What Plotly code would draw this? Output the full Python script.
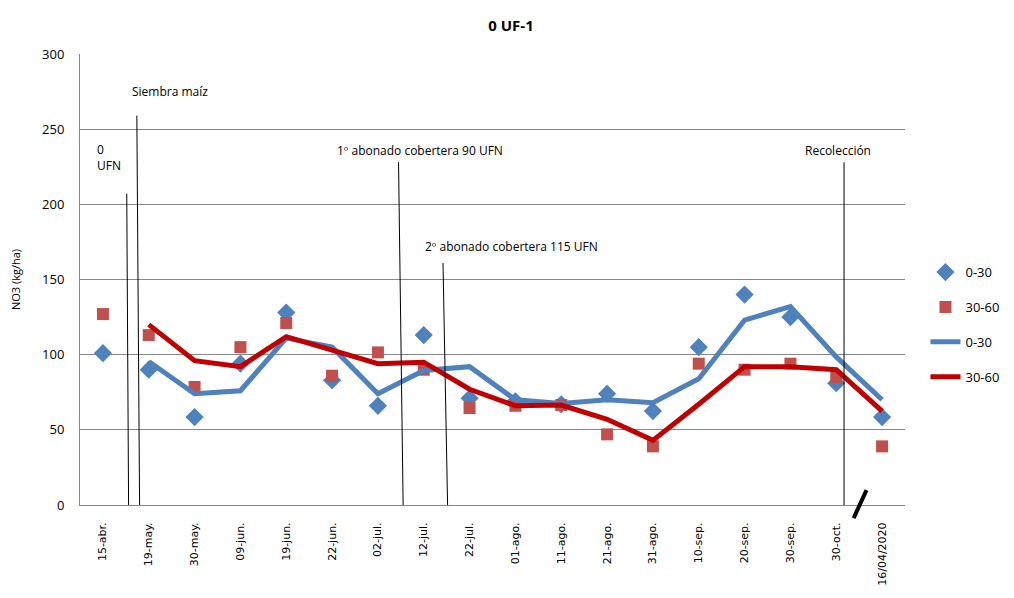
import plotly.graph_objects as go

categories = ["15-abr.", "19-may.", "30-may.", "09-jun.", "19-jun.", "22-jun.", "02-jul.",
              "12-jul.", "22-jul.", "01-ago.", "11-ago.", "21-ago.", "31-ago.", "10-sep.",
              "20-sep.", "30-sep.", "30-oct.", "16/04/2020"]
pts_0_30 = [101, 90, 58.5, 94, 128, 83, 66, 113, 71, 69, 67, 74, 62.5, 105, 140, 125, 81, 58.5]
pts_30_60 = [127, 113, 78.5, 105, 121, 86, 101.5, 90, 64.5, 66, 66.5, 47, 39, 94, 90, 94, 85, 39]
line_0_30 = [None, 95.5, 74, 76, 111, 105, 74, 89.5, 92, 70, 67.5, 70, 68, 84, 123, 132, 98.5, 70]
line_30_60 = [None, 120, 96, 92, 112, 103, 94, 95, 77, 66, 66.5, 57, 43, 67, 92, 92, 90, 62.5]
y_ticks = [0, 50, 100, 150, 200, 250, 300]

# event markers: (x at top, x at bottom, top y value, text, text x, text y, anchor)
events = [
    (0.52, 0.56, 207, "0<br>UFN", -0.17, 231, "left"),
    (0.74, 0.80, 259, "Siembra maíz", 1.46, 275, "center"),
    (6.45, 6.55, 228, "1º abonado cobertera 90 UFN", 6.92, 236, "center"),
    (7.42, 7.52, 161, "2º abonado cobertera 115 UFN", 8.91, 172, "center"),
    (16.17, 16.17, 228, "Recolección", 16.03, 236, "center"),
]

fig = go.Figure()
fig.add_trace(go.Scatter(x=categories, y=pts_0_30, mode="markers", name="0-30", legendgroup="a",
                         marker=dict(symbol="diamond", size=14, color="#4F81BD")))
fig.add_trace(go.Scatter(x=categories, y=pts_30_60, mode="markers", name="30-60", legendgroup="b",
                         marker=dict(symbol="square", size=12, color="#C0504D")))
fig.add_trace(go.Scatter(x=categories, y=line_0_30, mode="lines", name="0-30", legendgroup="c",
                         line=dict(color="#4F81BD", width=5)))
fig.add_trace(go.Scatter(x=categories, y=line_30_60, mode="lines", name="30-60", legendgroup="d",
                         line=dict(color="#C00000", width=5)))

for xt, xb, ytop, text, tx, ty, align in events:
    fig.add_shape(type="line", xref="x", yref="y", x0=xt, x1=xb, y0=ytop, y1=0,
                  line=dict(color="black", width=1))
    fig.add_annotation(x=tx, y=ty, xref="x", yref="y", text=text, showarrow=False,
                       xanchor="left" if align == "left" else "center", align="left",
                       font=dict(family="Open Sans", size=12, color="black"))

# axis break slash
fig.add_shape(type="line", xref="x", yref="paper", x0=16.38, x1=16.66, y0=-0.029, y1=0.033,
              line=dict(color="black", width=4))

fig.update_layout(
    width=1006, height=590,
    margin=dict(l=72, r=109, t=46, b=93, autoexpand=False),
    paper_bgcolor="white", plot_bgcolor="white",
    title=dict(text="<b>0 UF-1</b>", x=0.5, xanchor="center", y=0.97, yanchor="middle",
               font=dict(family="Open Sans", size=15, color="black")),
    font=dict(family="Open Sans", color="black"),
    legend=dict(x=0.912, xref="container", xanchor="left", y=0.40, yanchor="middle",
                tracegroupgap=15, font=dict(family="Open Sans", size=13)),
    showlegend=True,
)
fig.update_xaxes(type="category", tickangle=-90, showgrid=False, showline=True,
                 linecolor="#888888", linewidth=1, ticks="", range=[-0.5, 17.5],
                 ticklabelstandoff=12, automargin=False,
                 tickfont=dict(family="DejaVu Sans", size=11, color="black"))
fig.update_yaxes(range=[0, 300], tickvals=y_ticks, showgrid=True, gridcolor="#888888",
                 gridwidth=1, showline=True, linecolor="#888888", linewidth=1,
                 zeroline=False, ticks="", ticklabelstandoff=12, automargin=False,
                 tickfont=dict(family="Open Sans", size=13, color="black"),
                 title=dict(text="NO3 (kg/ha)", font=dict(family="Open Sans", size=11), standoff=22))

fig.write_html("out.html")
